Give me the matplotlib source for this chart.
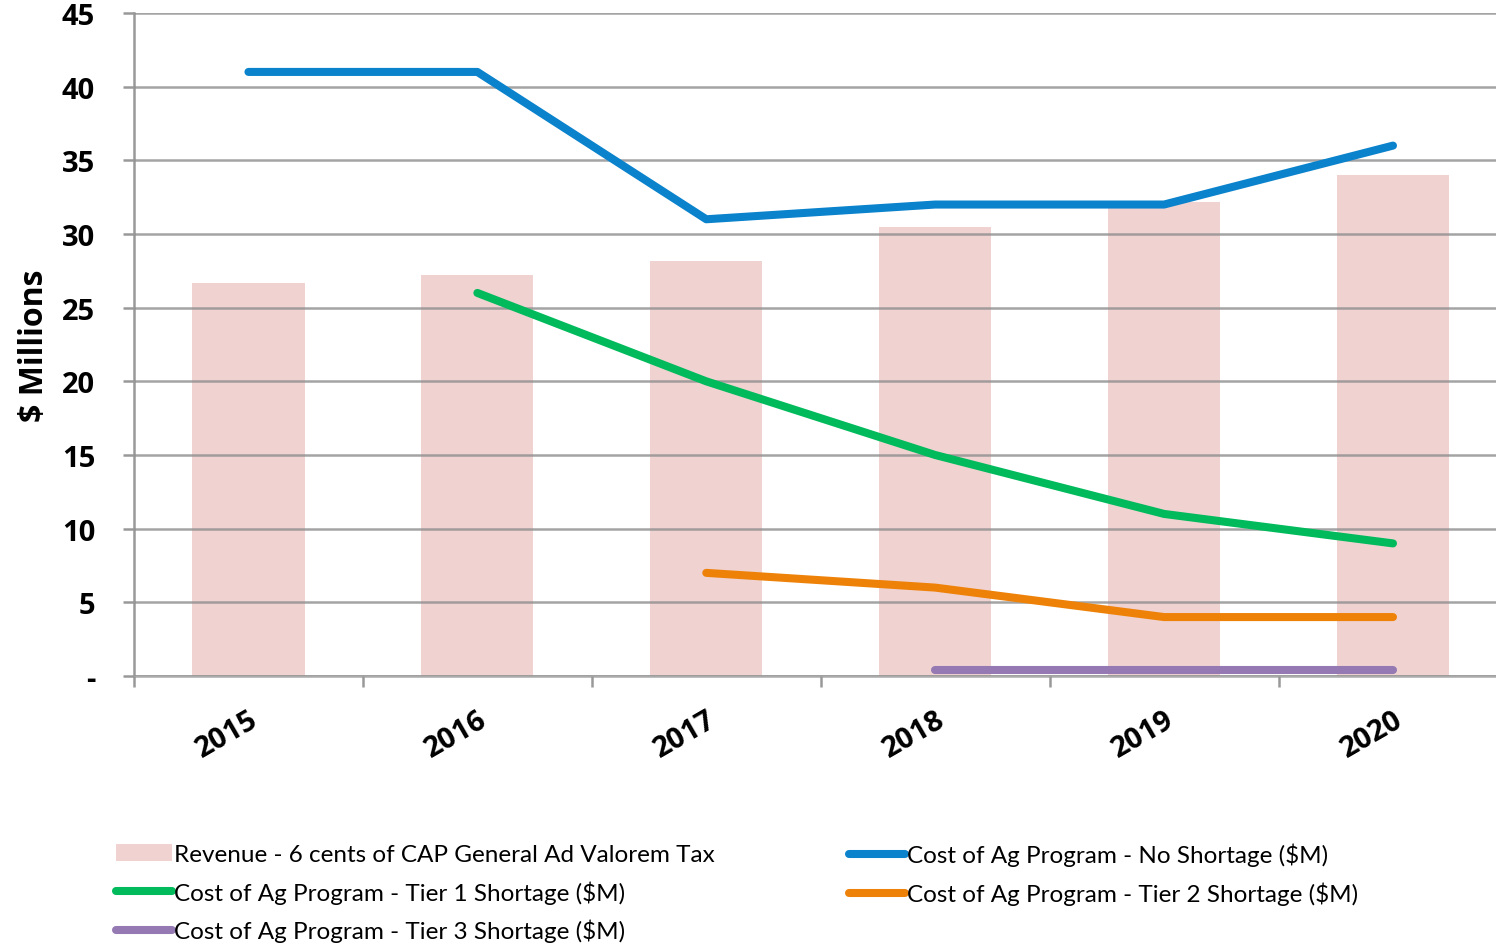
import numpy as np
import matplotlib
matplotlib.use('Agg')
import matplotlib.pyplot as plt
from matplotlib.patches import Patch
from matplotlib.lines import Line2D

plt.rcParams['font.family'] = ['Lato', 'DejaVu Sans']
BOLD = ['Open Sans', 'DejaVu Sans']

years = ['2015', '2016', '2017', '2018', '2019', '2020']
revenue = [26.7, 27.2, 28.2, 30.5, 32.2, 34.0]
no_shortage = [41, 41, 31, 32, 32, 36]
tier1 = [np.nan, 26, 20, 15, 11, 9]
tier2 = [np.nan, np.nan, 7, 6, 4, 4]
tier3 = [np.nan, np.nan, np.nan, 0.4, 0.4, 0.4]

bar_color = '#F0D2D1'
blue = '#0A82CC'
green = '#00BA5C'
orange = '#EE8208'
purple = '#9479B2'

fig = plt.figure(figsize=(14.96, 9.45), dpi=100)
ax = fig.add_axes([134 / 1496, 1 - 677 / 945, 1 - 134 / 1496, (677 - 14) / 945])

x = np.arange(len(years))
ax.bar(x, revenue, width=0.49, color=bar_color, zorder=1)

lw = 5.8
for vals, c in [(no_shortage, blue), (tier1, green), (tier2, orange), (tier3, purple)]:
    ax.plot(x, vals, color=c, lw=lw, solid_capstyle='round', solid_joinstyle='round', zorder=3)

ax.set_xlim(-0.5, 5.45)
ax.set_ylim(0, 45)
ax.set_yticks(np.arange(0, 46, 5))
ax.set_yticklabels(['-' if v == 0 else str(v) for v in range(0, 46, 5)],
                   fontsize=21, fontweight='bold', family=BOLD)
ax.yaxis.grid(True, color='#8e8e8e', lw=1.8, alpha=0.8, zorder=2)
ax.set_axisbelow(False)
ax.tick_params(axis='y', length=8, width=1.8, color='#999999', pad=20)

ax.set_xticks(x)
ax.set_xticklabels(years, fontsize=21, fontweight='bold', family=BOLD, rotation=30,
                   ha='right', va='top', rotation_mode='anchor')
ax.set_xticks(np.arange(-0.5, 5.0, 1.0), minor=True)
ax.tick_params(axis='x', which='major', length=0, pad=21)
ax.tick_params(axis='x', which='minor', length=8, width=1.8, color='#999999')

for s in ['top', 'right']:
    ax.spines[s].set_visible(False)
ax.spines['left'].set_color('#999999')
ax.spines['left'].set_linewidth(1.8)
ax.spines['bottom'].set_color('#aaaaaa')
ax.spines['bottom'].set_linewidth(1.8)

ax.set_ylabel('$ Millions', fontsize=23, fontweight='bold', family=BOLD, labelpad=8)

h_rev = Patch(facecolor=bar_color, edgecolor='none')
def lh(c):
    return Line2D([], [], color=c, lw=5.8, solid_capstyle='round')

leg_kw = dict(loc='upper left', frameon=False, fontsize=17.5, handlelength=2.3,
              handletextpad=0.1, labelspacing=0.62, borderaxespad=0, borderpad=0)
leg1 = fig.legend([h_rev, lh(green), lh(purple)],
                  ['Revenue - 6 cents of CAP General Ad Valorem Tax',
                   'Cost of Ag Program - Tier 1 Shortage ($M)',
                   'Cost of Ag Program - Tier 3 Shortage ($M)'],
                  bbox_to_anchor=(116 / 1496, 1 - 845 / 945), **leg_kw)
leg2 = fig.legend([lh(blue), lh(orange)],
                  ['Cost of Ag Program - No Shortage ($M)',
                   'Cost of Ag Program - Tier 2 Shortage ($M)'],
                  bbox_to_anchor=(849 / 1496, 1 - 844 / 945), **leg_kw)

fig.savefig('out.png', dpi=100)
